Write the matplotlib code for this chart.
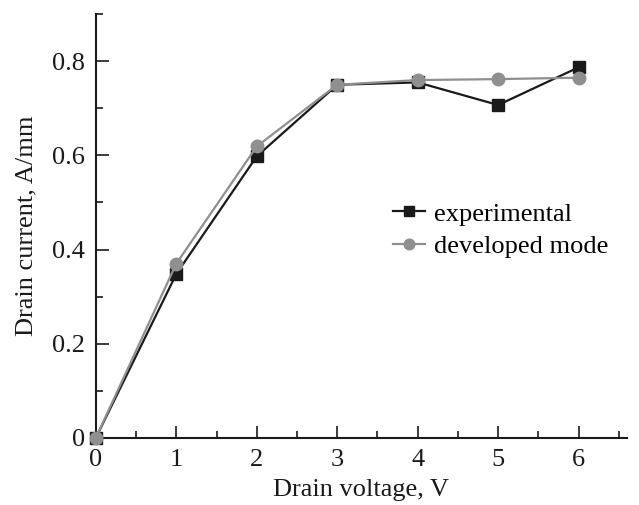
import numpy as np
import matplotlib
matplotlib.use('Agg')
import matplotlib.pyplot as plt
from matplotlib.ticker import MultipleLocator

# drain voltage, V / drain current, A/mm
voltage      = [0, 1, 2, 3, 4, 5, 6]
experimental = [0, 0.348, 0.598, 0.750, 0.755, 0.707, 0.787]
developed    = [0, 0.370, 0.619, 0.750, 0.760, 0.762, 0.765]

plt.rcParams['font.family'] = 'Liberation Serif'

fig = plt.figure(figsize=(6.39, 5.05), dpi=100)
ax = fig.add_axes([0.150, 0.133, 0.831, 0.839])

ax.plot(voltage, experimental, color='#1a1a1a', lw=1.6, marker='s', ms=9,
        label='experimental', zorder=3, clip_on=False)
ax.plot(voltage, developed, color='#8f8f8f', lw=1.6, marker='o', ms=9,
        label='developed mode', zorder=4, clip_on=False)

ax.set_xlim(0, 6.6)
ax.set_ylim(0, 0.9)
ax.xaxis.set_major_locator(MultipleLocator(1))
ax.xaxis.set_minor_locator(MultipleLocator(0.5))
ax.yaxis.set_minor_locator(MultipleLocator(0.1))
ax.set_yticks([0, 0.2, 0.4, 0.6, 0.8])
ax.set_yticklabels(['0', '0.2', '0.4', '0.6', '0.8'])

for s in ['top', 'right']:
    ax.spines[s].set_visible(False)
for s in ['left', 'bottom']:
    ax.spines[s].set_linewidth(1.5)
    ax.spines[s].set_color('#1a1a1a')

ax.tick_params(which='both', direction='in', width=1.2, colors='#1a1a1a',
               labelsize=19)
ax.tick_params(axis='x', which='both', pad=8)
ax.tick_params(axis='y', which='both', pad=8)
ax.tick_params(which='major', length=9)
ax.tick_params(which='minor', length=5)

ax.set_xlabel('Drain voltage, V', fontsize=19, color='#1a1a1a', labelpad=6)
ax.set_ylabel('Drain current, A/mm', fontsize=19, color='#1a1a1a', labelpad=10)

ax.legend(loc='center left', bbox_to_anchor=(0.535, 0.49), frameon=False,
          fontsize=19, handlelength=1.2, handletextpad=0.35, labelspacing=0.35,
          markerscale=0.85, borderpad=0)

fig.savefig('out.png', dpi=100)
